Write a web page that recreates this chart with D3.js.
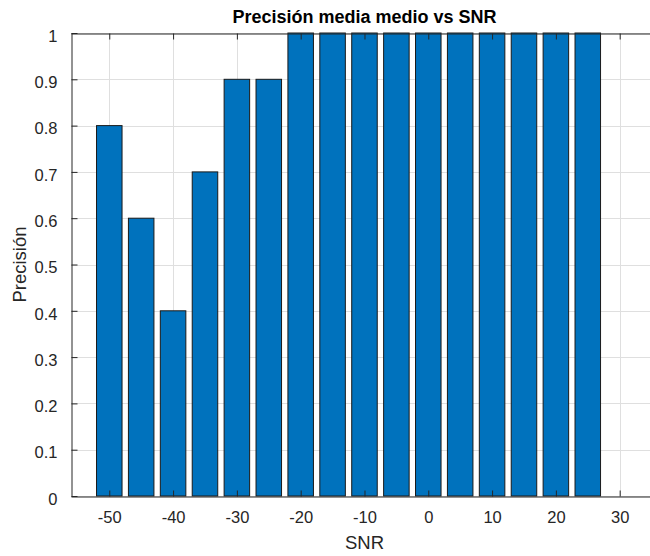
<!DOCTYPE html>
<html>
<head>
<meta charset="utf-8">
<script src="https://cdn.jsdelivr.net/npm/d3@7"></script>
<style>
  html, body { margin: 0; padding: 0; background: #fff; }
  svg { display: block; }
  text { font-family: "Liberation Sans", Arial, Helvetica, sans-serif; }
</style>
</head>
<body>
<script>
// SNR levels (dB) and mean precision at each level
const snr = [-50, -45, -40, -35, -30, -25, -20, -15, -10, -5, 0, 5, 10, 15, 20, 25];
const precision = [0.8, 0.6, 0.4, 0.7, 0.9, 0.9, 1, 1, 1, 1, 1, 1, 1, 1, 1, 1];
const xTicks = [-50, -40, -30, -20, -10, 0, 10, 20, 30];
const yTicks = [0, 0.1, 0.2, 0.3, 0.4, 0.5, 0.6, 0.7, 0.8, 0.9, 1];

const W = 650, H = 556;
const plotLeft = 71, plotTop = 33, plotBottom = 496;
const xLo = -56, xHi = 36;
const plotRight = plotLeft + (xHi - xLo) * 6.38;

const svg = d3.select("body").append("svg").attr("width", W).attr("height", H);

const x = d3.scaleLinear().domain([xLo, xHi]).range([plotLeft, plotRight]);
const y = d3.scaleLinear().domain([0, 1]).range([plotBottom, plotTop]);
const barW = x(4) - x(0);

const axisCol = "#262626";

// grid
const grid = svg.append("g");
grid.selectAll("line.gx").data(xTicks).join("line")
  .attr("x1", d => Math.round(x(d)) + 0.5).attr("x2", d => Math.round(x(d)) + 0.5)
  .attr("y1", plotTop).attr("y2", plotBottom)
  .attr("stroke", "#dfdfdf").attr("stroke-width", 1);
grid.selectAll("line.gy").data(yTicks).join("line")
  .attr("y1", d => Math.round(y(d)) + 0.5).attr("y2", d => Math.round(y(d)) + 0.5)
  .attr("x1", plotLeft).attr("x2", plotRight)
  .attr("stroke", "#dfdfdf").attr("stroke-width", 1);

// bars
svg.append("g").selectAll("rect").data(snr).join("rect")
  .attr("x", (d) => x(d) - barW / 2)
  .attr("width", barW)
  .attr("y", (d, i) => y(precision[i]))
  .attr("height", (d, i) => y(0) - y(precision[i]))
  .attr("fill", "#0072BD")
  .attr("stroke", "#1a1a1a")
  .attr("stroke-width", 1);

// axes (drawn on top, ticks pointing inward)
const tickLen = 6;
const fontTick = 16.5;

const xAxisB = d3.axisBottom(x).tickValues(xTicks).tickSizeInner(-tickLen).tickSizeOuter(0).tickPadding(15).tickFormat(d => String(d));
const gxb = svg.append("g").attr("transform", `translate(0,${plotBottom + 0.5})`).call(xAxisB);
const xAxisT = d3.axisTop(x).tickValues(xTicks).tickSizeInner(-tickLen).tickSizeOuter(0).tickFormat("");
const gxt = svg.append("g").attr("transform", `translate(0,${plotTop + 0.5})`).call(xAxisT);

const yAxisL = d3.axisLeft(y).tickValues(yTicks).tickSizeInner(-tickLen).tickSizeOuter(0).tickPadding(14).tickFormat(d => String(d));
const gyl = svg.append("g").attr("transform", `translate(${plotLeft + 0.5},0)`).call(yAxisL);

[gxb, gxt, gyl].forEach(g => {
  g.select(".domain").attr("stroke", axisCol).attr("stroke-width", 1);
  g.selectAll(".tick line").attr("stroke", axisCol);
  g.selectAll(".tick text").attr("fill", axisCol).style("font-size", fontTick + "px")
    .style("font-family", "'Liberation Sans', Arial, sans-serif");
});
gyl.selectAll(".tick text").attr("dy", "0.5em");
gxb.selectAll(".tick text").attr("dy", "0.71em");

// title
svg.append("text")
  .attr("x", (plotLeft + plotRight) / 2).attr("y", 23)
  .attr("text-anchor", "middle")
  .style("font-size", "18px").style("font-weight", "bold")
  .attr("fill", "#000")
  .text("Precisión media medio vs SNR");

// axis labels
svg.append("text")
  .attr("x", (plotLeft + plotRight) / 2).attr("y", 549)
  .attr("text-anchor", "middle")
  .style("font-size", "18.5px")
  .attr("fill", axisCol)
  .text("SNR");

svg.append("text")
  .attr("transform", `translate(26,${(plotTop + plotBottom) / 2}) rotate(-90)`)
  .attr("text-anchor", "middle")
  .style("font-size", "18.5px")
  .attr("fill", axisCol)
  .text("Precisión");
</script>
</body>
</html>
